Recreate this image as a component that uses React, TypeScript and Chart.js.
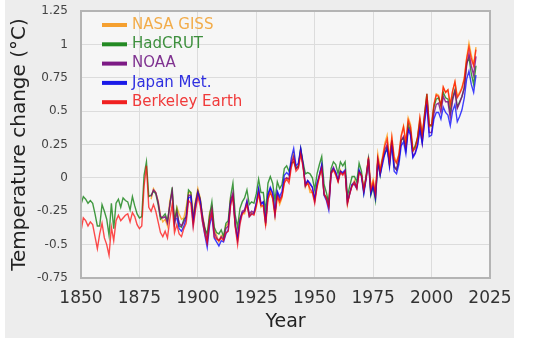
import React, { useEffect, useRef } from "react";
import { Chart, registerables } from "chart.js";

Chart.register(...registerables);

const FONT = "DejaVu Sans";

// X axis (years) and Y axis (°C) tick settings
const xMin = 1850;
const xMax = 2025;
const xStep = 25;
const yMin = -0.75;
const yMax = 1.25;
const yStep = 0.25;

const seriesNames = ["NASA GISS", "HadCRUT", "NOAA", "Japan Met.", "Berkeley Earth"];
const lineColors = [
  "rgba(255,160,20,0.8)",
  "rgba(20,130,20,0.8)",
  "rgba(128,0,128,0.8)",
  "rgba(0,0,255,0.75)",
  "rgba(255,0,0,0.7)",
];
const legendLineColors = ["#f5a030", "#238a23", "#7d1a85", "#1a1ae8", "#f02020"];
const legendTextColors = ["#f2ac4a", "#3d8f3d", "#7f3290", "#2f2fe0", "#f03a3a"];

const gissStart = 1880;
const giss = [
  -0.16, -0.08, -0.11, -0.17, -0.28, -0.33, -0.31, -0.36, -0.17, -0.1,
  -0.35, -0.22, -0.27, -0.31, -0.3, -0.22, -0.11, -0.11, -0.27, -0.17,
  -0.08, -0.15, -0.28, -0.37, -0.47, -0.26, -0.22, -0.39, -0.43, -0.48,
  -0.43, -0.44, -0.36, -0.34, -0.15, -0.14, -0.36, -0.46, -0.3, -0.27,
  -0.27, -0.19, -0.28, -0.26, -0.27, -0.22, -0.1, -0.22, -0.2, -0.36,
  -0.16, -0.1, -0.16, -0.29, -0.13, -0.2, -0.15, -0.03, 0.0, -0.02,
  0.13, 0.19, 0.07, 0.09, 0.2, 0.09, -0.07, -0.03, -0.11, -0.11,
  -0.17, -0.07, 0.01, 0.08, -0.13, -0.14, -0.19, 0.05, 0.06, 0.03,
  -0.03, 0.06, 0.03, 0.05, -0.2, -0.11, -0.06, -0.02, -0.08, 0.05,
  0.03, -0.08, 0.01, 0.16, -0.07, -0.01, -0.1, 0.18, 0.07, 0.16,
  0.26, 0.32, 0.14, 0.31, 0.16, 0.12, 0.18, 0.32, 0.39, 0.27,
  0.45, 0.4, 0.22, 0.23, 0.31, 0.45, 0.33, 0.46, 0.61, 0.38,
  0.39, 0.54, 0.63, 0.62, 0.54, 0.68, 0.64, 0.66, 0.54, 0.65,
  0.72, 0.61, 0.64, 0.68, 0.75, 0.9, 1.01, 0.92, 0.85, 0.98,
];

const hadcrutStart = 1850;
const hadcrut = [
  -0.2, -0.14, -0.16, -0.19, -0.17, -0.19, -0.27, -0.36, -0.36, -0.2,
  -0.25, -0.31, -0.43, -0.19, -0.38, -0.19, -0.16, -0.22, -0.15, -0.17,
  -0.18, -0.24, -0.14, -0.21, -0.27, -0.3, -0.29, 0.02, 0.12, -0.14,
  -0.13, -0.1, -0.12, -0.2, -0.31, -0.29, -0.27, -0.32, -0.21, -0.07,
  -0.32, -0.23, -0.36, -0.37, -0.31, -0.29, -0.09, -0.11, -0.31, -0.19,
  -0.1, -0.16, -0.3, -0.38, -0.42, -0.28, -0.18, -0.37, -0.41, -0.42,
  -0.39, -0.44, -0.34, -0.32, -0.14, -0.04, -0.28, -0.37, -0.23, -0.18,
  -0.15, -0.09, -0.2, -0.18, -0.19, -0.12, -0.01, -0.11, -0.11, -0.25,
  -0.04, 0.01, -0.04, -0.17, -0.03, -0.08, -0.05, 0.07, 0.09, 0.05,
  0.11, 0.12, 0.07, 0.09, 0.22, 0.12, 0.03, 0.04, 0.03, 0.0,
  -0.09, 0.03, 0.1, 0.16, -0.05, -0.11, -0.19, 0.07, 0.12, 0.1,
  0.03, 0.12, 0.09, 0.12, -0.14, -0.06, 0.01, 0.01, -0.03, 0.11,
  0.05, -0.11, 0.02, 0.14, -0.13, -0.07, -0.17, 0.13, 0.02, 0.14,
  0.18, 0.23, 0.1, 0.28, 0.08, 0.06, 0.14, 0.28, 0.3, 0.22,
  0.4, 0.35, 0.2, 0.24, 0.3, 0.42, 0.28, 0.48, 0.63, 0.4,
  0.39, 0.53, 0.59, 0.6, 0.54, 0.64, 0.6, 0.59, 0.49, 0.6,
  0.66, 0.53, 0.57, 0.61, 0.68, 0.86, 0.9, 0.78, 0.7, 0.84,
];

const noaaStart = 1880;
const noaa = [
  -0.14, -0.09, -0.11, -0.18, -0.29, -0.3, -0.29, -0.34, -0.2, -0.1,
  -0.35, -0.26, -0.34, -0.36, -0.33, -0.29, -0.13, -0.13, -0.31, -0.19,
  -0.1, -0.16, -0.29, -0.39, -0.47, -0.31, -0.23, -0.41, -0.45, -0.47,
  -0.44, -0.46, -0.38, -0.36, -0.17, -0.11, -0.34, -0.44, -0.31, -0.25,
  -0.24, -0.17, -0.27, -0.25, -0.26, -0.19, -0.09, -0.19, -0.18, -0.33,
  -0.13, -0.08, -0.12, -0.26, -0.11, -0.16, -0.13, -0.01, 0.0, -0.01,
  0.11, 0.16, 0.07, 0.08, 0.21, 0.1, -0.05, -0.02, -0.05, -0.07,
  -0.16, -0.05, 0.02, 0.09, -0.12, -0.15, -0.21, 0.04, 0.08, 0.04,
  -0.02, 0.05, 0.03, 0.05, -0.19, -0.11, -0.05, -0.03, -0.07, 0.05,
  0.02, -0.1, 0.0, 0.13, -0.11, -0.05, -0.14, 0.13, 0.03, 0.12,
  0.21, 0.25, 0.1, 0.28, 0.09, 0.06, 0.13, 0.28, 0.31, 0.21,
  0.37, 0.34, 0.16, 0.19, 0.25, 0.39, 0.26, 0.44, 0.59, 0.34,
  0.34, 0.48, 0.55, 0.56, 0.49, 0.61, 0.57, 0.57, 0.45, 0.58,
  0.65, 0.52, 0.56, 0.61, 0.67, 0.84, 0.93, 0.84, 0.77, 0.91,
];

const japanStart = 1891;
const japan = [
  -0.3, -0.38, -0.4, -0.36, -0.31, -0.15, -0.14, -0.35, -0.22,
  -0.12, -0.18, -0.33, -0.43, -0.52, -0.36, -0.28, -0.45, -0.48, -0.51,
  -0.47, -0.48, -0.42, -0.39, -0.19, -0.14, -0.36, -0.47, -0.33, -0.26,
  -0.25, -0.18, -0.29, -0.27, -0.27, -0.19, -0.08, -0.2, -0.18, -0.34,
  -0.12, -0.07, -0.11, -0.27, -0.1, -0.14, -0.1, 0.02, 0.04, 0.02,
  0.15, 0.22, 0.09, 0.11, 0.22, 0.1, -0.06, -0.02, -0.04, -0.07,
  -0.17, -0.04, 0.02, 0.1, -0.13, -0.17, -0.24, 0.03, 0.07, 0.04,
  -0.02, 0.05, 0.04, 0.06, -0.18, -0.12, -0.05, -0.05, -0.08, 0.06,
  0.01, -0.12, -0.01, 0.14, -0.12, -0.06, -0.15, 0.12, 0.02, 0.1,
  0.18, 0.22, 0.08, 0.25, 0.05, 0.03, 0.1, 0.24, 0.27, 0.18,
  0.36, 0.32, 0.15, 0.18, 0.24, 0.36, 0.26, 0.41, 0.55, 0.31,
  0.32, 0.44, 0.49, 0.49, 0.44, 0.53, 0.49, 0.47, 0.39, 0.5,
  0.55, 0.42, 0.46, 0.51, 0.6, 0.74, 0.8, 0.7, 0.64, 0.77,
];

const berkeleyStart = 1850;
const berkeley = [
  -0.4, -0.3, -0.32, -0.36, -0.33, -0.35, -0.44, -0.53, -0.42, -0.34,
  -0.45, -0.5, -0.58, -0.37, -0.47, -0.32, -0.28, -0.32, -0.3, -0.28,
  -0.27, -0.33, -0.26, -0.29, -0.35, -0.38, -0.36, -0.06, 0.09, -0.22,
  -0.25, -0.2, -0.25, -0.33, -0.41, -0.44, -0.4, -0.45, -0.31, -0.2,
  -0.41, -0.35, -0.42, -0.44, -0.38, -0.34, -0.17, -0.19, -0.37, -0.24,
  -0.14, -0.21, -0.33, -0.42, -0.49, -0.33, -0.26, -0.44, -0.46, -0.47,
  -0.45, -0.47, -0.41, -0.4, -0.21, -0.14, -0.37, -0.5, -0.35, -0.27,
  -0.25, -0.2, -0.29, -0.27, -0.28, -0.21, -0.12, -0.21, -0.21, -0.35,
  -0.16, -0.11, -0.15, -0.28, -0.14, -0.18, -0.14, -0.04, -0.01, -0.04,
  0.08, 0.14, 0.05, 0.07, 0.18, 0.08, -0.06, -0.04, -0.08, -0.11,
  -0.19, -0.07, 0.01, 0.07, -0.12, -0.16, -0.22, 0.03, 0.06, 0.02,
  -0.03, 0.04, 0.02, 0.05, -0.19, -0.12, -0.06, -0.04, -0.08, 0.04,
  0.02, -0.09, 0.0, 0.15, -0.09, -0.03, -0.12, 0.15, 0.05, 0.14,
  0.24, 0.29, 0.13, 0.3, 0.14, 0.11, 0.17, 0.31, 0.38, 0.26,
  0.43, 0.38, 0.2, 0.22, 0.3, 0.45, 0.32, 0.47, 0.63, 0.39,
  0.4, 0.55, 0.62, 0.61, 0.54, 0.68, 0.64, 0.66, 0.55, 0.65,
  0.72, 0.6, 0.63, 0.67, 0.74, 0.89, 0.98, 0.89, 0.84, 0.96,
];

const seriesStarts = [gissStart, hadcrutStart, noaaStart, japanStart, berkeleyStart];
const seriesValues = [giss, hadcrut, noaa, japan, berkeley];
// lower order = painted later (on top)
const drawOrder = [4, 3, 2, 1, 0];

function toPoints(start: number, values: number[]) {
  return values.map((v, i) => ({ x: start + i, y: v }));
}

const decorPlugin = {
  id: "decor",
  beforeDraw(chart: any) {
    const { ctx, chartArea: a, width, height } = chart;
    ctx.save();
    ctx.fillStyle = "#ffffff";
    ctx.fillRect(0, 0, width, height);
    ctx.fillStyle = "#ededed";
    ctx.fillRect(5, 0, 509, 338);
    ctx.fillStyle = "#f6f6f6";
    ctx.fillRect(a.left, a.top, a.right - a.left, a.bottom - a.top);
    ctx.restore();
  },
  afterDraw(chart: any) {
    const { ctx, chartArea: a } = chart;
    ctx.save();
    ctx.strokeStyle = "#b4b4b4";
    ctx.lineWidth = 2;
    ctx.strokeRect(a.left, a.top, a.right - a.left, a.bottom - a.top);
    // legend
    const x0 = a.left + 21;
    const y0 = a.top + 14;
    const rowH = 19.3;
    ctx.font = `15px "${FONT}"`;
    ctx.textBaseline = "middle";
    ctx.textAlign = "left";
    chart.data.datasets.forEach((ds: any, i: number) => {
      const y = y0 + i * rowH;
      ctx.strokeStyle = ds.legendLine;
      ctx.lineWidth = 4;
      ctx.beginPath();
      ctx.moveTo(x0, y);
      ctx.lineTo(x0 + 25, y);
      ctx.stroke();
      ctx.fillStyle = ds.legendText;
      ctx.fillText(ds.label, x0 + 30, y);
    });
    ctx.restore();
  },
};

export default function App() {
  const ref = useRef<HTMLCanvasElement | null>(null);
  useEffect(() => {
    document.body.style.margin = "0";
    const canvas = ref.current;
    if (!canvas) return;
    const datasets = seriesNames.map((name, i) => ({
      label: name,
      data: toPoints(seriesStarts[i], seriesValues[i]),
      borderColor: lineColors[i],
      backgroundColor: lineColors[i],
      borderWidth: 1.4,
      pointRadius: 0,
      tension: 0,
      fill: false,
      order: drawOrder[i],
      legendLine: legendLineColors[i],
      legendText: legendTextColors[i],
    }));
    const chart = new Chart(canvas, {
      type: "line",
      data: { datasets } as any,
      plugins: [decorPlugin],
      options: {
        animation: false,
        responsive: false,
        devicePixelRatio: 1,
        layout: { padding: { left: 0, top: 11, right: 46, bottom: 0 } },
        plugins: { legend: { display: false }, tooltip: { enabled: false } },
        scales: {
          x: {
            type: "linear",
            min: xMin,
            max: xMax,
            ticks: {
              stepSize: xStep,
              autoSkip: false,
              maxRotation: 0,
              padding: 10,
              color: "#333333",
              font: { family: FONT, size: 17 },
              callback: (v: any) => String(v),
            },
            grid: { color: "#dcdcdc", drawTicks: false, lineWidth: 1 },
            border: { display: false },
            title: {
              display: true,
              text: "Year",
              color: "#222222",
              font: { family: FONT, size: 19 },
              padding: { top: 0, bottom: 10 },
            },
            afterFit: (s: any) => {
              s.height = 65;
            },
          },
          y: {
            type: "linear",
            min: yMin,
            max: yMax,
            ticks: {
              stepSize: yStep,
              padding: 13,
              color: "#444444",
              font: { family: FONT, size: 12 },
              callback: (v: any) => String(v),
            },
            grid: { color: "#dcdcdc", drawTicks: false, lineWidth: 1 },
            border: { display: false },
            title: {
              display: true,
              text: "Temperature change (°C)",
              color: "#222222",
              font: { family: FONT, size: 20 },
              padding: { top: 8, bottom: 0 },
            },
            afterFit: (s: any) => {
              s.width = 81;
              s.paddingTop = 0;
              s.paddingBottom = 0;
            },
          },
        },
      } as any,
    });
    return () => chart.destroy();
  }, []);
  return (
    <div style={{ width: 536, height: 343 }}>
      <canvas ref={ref} width={536} height={343} style={{ display: "block" }} />
    </div>
  );
}
